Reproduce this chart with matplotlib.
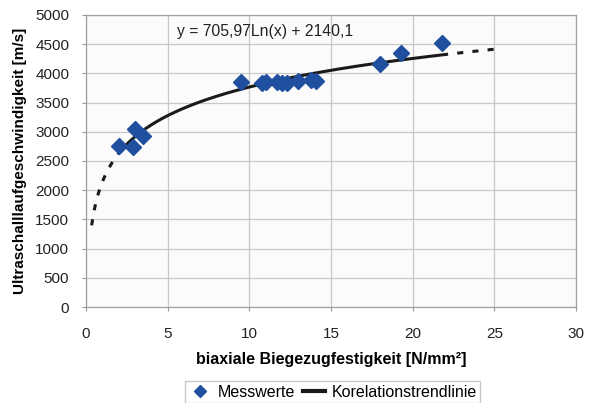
import numpy as np
import matplotlib
matplotlib.use("Agg")
import matplotlib.pyplot as plt
from matplotlib.lines import Line2D

plt.rcParams['font.family'] = ['Liberation Sans', 'DejaVu Sans']

strength = [2.0, 2.9, 3.0, 3.5, 9.5, 10.8, 11.0, 11.7, 12.0, 12.3, 13.0, 13.8, 14.1, 18.0, 19.3, 21.8]
velocity = [2760, 2745, 3040, 2930, 3850, 3840, 3860, 3860, 3840, 3840, 3870, 3890, 3870, 4160, 4355, 4515]

# Trendline coefficients shown on chart
coef_a = 705.97
coef_b = 2140.1
solid_range = (2.0, 21.8)
back_range = (0.35, 2.0)
fwd_range = (21.8, 25.0)

xticks = [0, 5, 10, 15, 20, 25, 30]
yticks = list(range(0, 5001, 500))

fig = plt.figure(figsize=(5.91, 4.03), dpi=100)
fig.patch.set_facecolor('white')
ax = fig.add_axes([0.1455, 0.238, 0.829, 0.725])
ax.set_facecolor('#fbfbfb')

def trend(x):
    return coef_a * np.log(x) + coef_b

xs = np.linspace(*solid_range, 200)
ax.plot(xs, trend(xs), color='#1a1a1a', lw=2.2, zorder=3, solid_capstyle='butt')
for r in (back_range, fwd_range):
    xd = np.linspace(*r, 100)
    ax.plot(xd, trend(xd), color='#1a1a1a', lw=2.2, ls=(0, (2, 3)), zorder=3)

ax.plot(strength, velocity, ls='none', marker='D', markersize=8.5,
        color='#1f4f9e', zorder=4)

ax.set_xlim(0, 30)
ax.set_ylim(0, 5000)
ax.set_xticks(xticks)
ax.set_yticks(yticks)
ax.tick_params(axis='x', labelsize=11, colors='#222222', length=3, color='#999999', pad=11)
ax.tick_params(axis='y', labelsize=11, colors='#222222', length=3, color='#999999', pad=9)
ax.grid(True, color='#c8c8c8', lw=0.9)
ax.set_axisbelow(True)
for s in ax.spines.values():
    s.set_color('#a0a0a0')
    s.set_linewidth(0.9)

ax.set_xlabel('biaxiale Biegezugfestigkeit [N/mm²]', fontsize=11.5, fontweight='bold', labelpad=8)
ax.set_ylabel('Ultraschalllaufgeschwindigkeit [m/s]', fontsize=11, fontweight='bold', va='center')
ax.yaxis.set_label_coords(-0.135, 0.5)

ax.text(5.6, 4710, 'y = 705,97Ln(x) + 2140,1', fontsize=11.3, va='center', ha='left', color='#222222')

handles = [Line2D([], [], ls='none', marker='D', markersize=6.5, color='#1f4f9e'),
           Line2D([], [], color='#1a1a1a', lw=3)]
leg = fig.legend(handles, ['Messwerte', 'Korelationstrendlinie'], loc='center',
                 bbox_to_anchor=(0.563, 0.027), ncol=2, fontsize=11.5, frameon=True,
                 fancybox=False, edgecolor='#bbbbbb', handlelength=1.4,
                 columnspacing=0.5, handletextpad=0.4, borderpad=0.2)

fig.savefig('out.png', dpi=100)
